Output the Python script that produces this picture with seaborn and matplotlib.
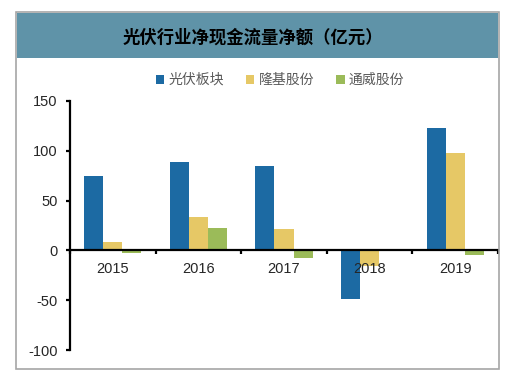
import pandas as pd
import seaborn as sns
import matplotlib.pyplot as plt
from matplotlib.patches import Rectangle
import numpy as np

years = ['2015', '2016', '2017', '2018', '2019']
series = ['光伏板块', '隆基股份', '通威股份']
pv_sector = [75, 89, 85, -49, 123]
longi = [8, 34, 21, -16, 98]
tongwei = [-3, 22, -8, 0, -5]
y_ticks = [-100, -50, 0, 50, 100, 150]

df = pd.DataFrame({
    'year': years * 3,
    'company': [s for s in series for _ in years],
    'value': pv_sector + longi + tongwei,
})

sns.set_style('white')
plt.rcParams['font.family'] = ['Liberation Sans', 'Noto Sans CJK SC', 'DejaVu Sans']
plt.rcParams['axes.unicode_minus'] = False

fig = plt.figure(figsize=(5.3, 3.78), dpi=100)
ax = fig.add_axes([70 / 530, 28 / 378, 428 / 530, 249 / 378])

palette = {'光伏板块': '#1c6aa3', '隆基股份': '#e6c866', '通威股份': '#9bbb59'}
sns.barplot(data=df, x='year', y='value', hue='company', palette=palette,
            width=0.667, gap=0, saturation=1, linewidth=0, ax=ax, legend=True)

ax.set_ylim(-100, 150)
ax.set_yticks(y_ticks)
ax.set_xlim(-0.5, 4.5)
ax.set_xlabel('')
ax.set_ylabel('')
ax.set_axisbelow(False)

for s in ['top', 'right']:
    ax.spines[s].set_visible(False)
ax.spines['bottom'].set_position(('data', 0))
ax.spines['left'].set_linewidth(1.6)
ax.spines['bottom'].set_linewidth(1.6)
ax.spines['left'].set_color('black')
ax.spines['bottom'].set_color('black')

ax.tick_params(axis='y', direction='out', length=3, width=1.6, labelsize=10.5,
               colors='black', labelcolor='#262626', left=True, pad=6)
ax.tick_params(axis='x', which='major', length=0, labelsize=10.5, pad=8,
               labelcolor='#262626')
ax.set_xticks(np.arange(-0.5, 5, 1), minor=True)
ax.tick_params(axis='x', which='minor', direction='out', length=3, width=1.6,
               bottom=True, colors='black')

handles, labels = ax.get_legend_handles_labels()
ax.get_legend().remove()
fig.legend(handles, labels, loc='center', bbox_to_anchor=(280 / 530, 1 - 80 / 378),
           ncol=3, frameon=False, handlelength=0.6, handleheight=0.6,
           handletextpad=0.3, columnspacing=1.6,
           prop={'family': ['Noto Sans CJK SC'], 'size': 10}, labelcolor='#595959')

# outer frame and title band
fig.patches.append(Rectangle((16 / 530, 1 - 369 / 378), 483 / 530, 357 / 378,
                             transform=fig.transFigure, fill=False,
                             edgecolor='#a6a6a6', linewidth=1.2, zorder=0))
fig.patches.append(Rectangle((17 / 530, 1 - 58 / 378), 481 / 530, 45 / 378,
                             transform=fig.transFigure, facecolor='#5f93a8',
                             edgecolor='none', zorder=0))
fig.text(253 / 530, 1 - 38 / 378, '光伏行业净现金流量净额（亿元）', ha='center', va='center',
         fontsize=12.5, fontweight='bold', family=['Noto Sans CJK SC'], color='black')

plt.savefig('out.png', dpi=100)
